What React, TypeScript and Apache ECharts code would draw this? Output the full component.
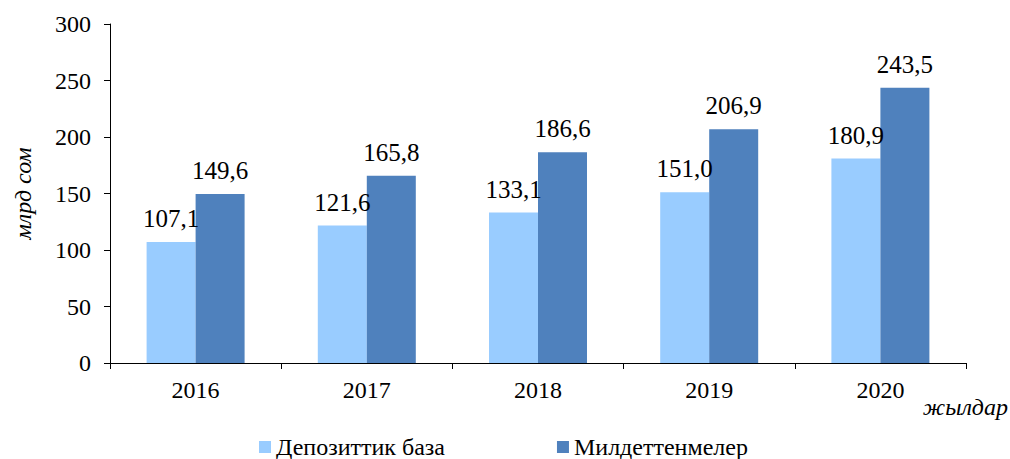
import React, { useEffect, useRef } from "react";
import * as echarts from "echarts";

const categories = ["2016", "2017", "2018", "2019", "2020"];
const depositBase = [107.1, 121.6, 133.1, 151.0, 180.9];
const liabilities = [149.6, 165.8, 186.6, 206.9, 243.5];
const seriesNames = ["Депозиттик база", "Милдеттенмелер"];
const yAxisName = "млрд сом";
const xAxisName = "жылдар";

const FONT = "Liberation Serif";

export default function App() {
  const ref = useRef<HTMLDivElement>(null);
  useEffect(() => {
    document.body.style.margin = "0";
    const chart = echarts.init(ref.current!, null, { renderer: "svg" });
    const fmt = (p: any) => Number(p.value).toFixed(1).replace(".", ",");
    const label = {
      show: true,
      position: "top",
      distance: 11,
      fontFamily: FONT,
      fontSize: 25,
      color: "#000",
      formatter: fmt,
    };
    chart.setOption({
      animation: false,
      backgroundColor: "#fff",
      textStyle: { fontFamily: FONT },
      grid: { left: 110, right: 44, top: 24, bottom: 96 },
      legend: {
        data: seriesNames,
        left: 259,
        top: 435,
        padding: 0,
        icon: "rect",
        itemWidth: 12,
        itemHeight: 12,
        itemGap: 112,
        textStyle: { fontFamily: FONT, fontSize: 24, color: "#000" },
      },
      xAxis: {
        type: "category",
        data: categories,
        axisLine: { lineStyle: { color: "#000", width: 1 } },
        axisTick: { show: true, alignWithLabel: false, length: 6, lineStyle: { color: "#000" } },
        axisLabel: { fontFamily: FONT, fontSize: 24, color: "#000", margin: 15 },
      },
      yAxis: {
        type: "value",
        min: 0,
        max: 300,
        interval: 50,
        name: yAxisName,
        nameLocation: "middle",
        nameGap: 75,
        nameTextStyle: { fontFamily: FONT, fontSize: 24, fontStyle: "italic", color: "#000" },
        axisLine: { show: true, lineStyle: { color: "#000", width: 1 } },
        axisTick: { show: true, length: 6, lineStyle: { color: "#000" } },
        axisLabel: { fontFamily: FONT, fontSize: 24, color: "#000", margin: 19 },
        splitLine: { show: false },
      },
      graphic: [
        {
          type: "text",
          right: 2,
          top: 395,
          style: { text: xAxisName, fontFamily: FONT, fontSize: 24, fontStyle: "italic", fill: "#000" },
        },
      ],
      series: [
        {
          name: seriesNames[0],
          type: "bar",
          data: depositBase,
          barWidth: 49,
          barGap: "0%",
          itemStyle: { color: "#99CCFF" },
          label,
        },
        {
          name: seriesNames[1],
          type: "bar",
          data: liabilities,
          barWidth: 49,
          barGap: "0%",
          itemStyle: { color: "#4F81BD" },
          label,
        },
      ],
    });
    return () => chart.dispose();
  }, []);
  return <div ref={ref} style={{ width: 1010, height: 459 }} />;
}
